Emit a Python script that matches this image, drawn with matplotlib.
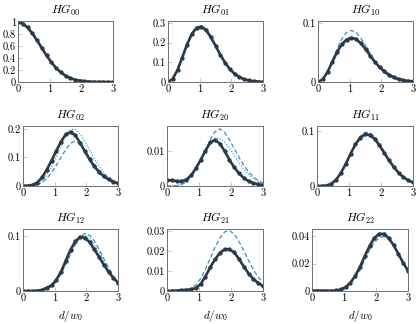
import matplotlib
matplotlib.use("Agg")
import matplotlib.pyplot as plt

plt.rcParams['font.family'] = ['cmr10', 'DejaVu Serif']
plt.rcParams['mathtext.fontset'] = 'cm'
plt.rcParams['axes.formatter.use_mathtext'] = True

# displacement grid d/w0
d = [0.0, 0.15, 0.3, 0.45, 0.6, 0.75, 0.9, 1.05, 1.2, 1.35, 1.5,
     1.65, 1.8, 1.95, 2.1, 2.25, 2.4, 2.55, 2.7, 2.85, 3.0]

hg00_dark = [1.0, 0.978, 0.914, 0.817, 0.698, 0.570, 0.445, 0.332, 0.237, 0.162, 0.105,
             0.066, 0.039, 0.022, 0.012, 0.006, 0.003, 0.0015, 0.0007, 0.0003, 0.0001]
hg00_dash = [1.0, 0.978, 0.914, 0.817, 0.698, 0.570, 0.445, 0.332, 0.237, 0.162, 0.105,
             0.066, 0.039, 0.022, 0.012, 0.006, 0.003, 0.0015, 0.0007, 0.0003, 0.0001]
hg00_dot = [1.0, 0.978, 0.914, 0.817, 0.698, 0.570, 0.445, 0.332, 0.237, 0.162, 0.105,
            0.066, 0.039, 0.022, 0.012, 0.006, 0.003, 0.0015, 0.0007, 0.0003, 0.0001]

hg01_dark = [0, 0.0160, 0.0610, 0.1240, 0.1895, 0.2430, 0.2740, 0.2810, 0.2640, 0.2280, 0.1840,
             0.1390, 0.0985, 0.0660, 0.0420, 0.0252, 0.0144, 0.0078, 0.0040, 0.0020, 0.0009]
hg01_dash = [0, 0.0160, 0.0610, 0.1240, 0.1895, 0.2430, 0.2740, 0.2790, 0.2600, 0.2235, 0.1785,
             0.1335, 0.0935, 0.0615, 0.0383, 0.0226, 0.0127, 0.0068, 0.0034, 0.0016, 0.0007]
hg01_dot = [0, 0.0165, 0.0620, 0.1250, 0.1900, 0.2432, 0.2738, 0.2785, 0.2596, 0.2236, 0.1795,
            0.1350, 0.0952, 0.0630, 0.0395, 0.0235, 0.0132, 0.0071, 0.0036, 0.0017, 0.0008]

hg10_dark = [0, 0.0045, 0.017, 0.034, 0.051, 0.064, 0.072, 0.0755, 0.073, 0.066, 0.056,
             0.045, 0.034, 0.025, 0.018, 0.012, 0.008, 0.005, 0.003, 0.0018, 0.001]
hg10_dash = [0, 0.0045, 0.0175, 0.0360, 0.0560, 0.0735, 0.0845, 0.0880, 0.0845, 0.0750, 0.0620,
             0.0480, 0.0350, 0.0240, 0.0157, 0.0097, 0.0057, 0.0032, 0.0017, 0.0009, 0.0004]
hg10_dot = [0, 0.0048, 0.018, 0.036, 0.053, 0.066, 0.074, 0.077, 0.074, 0.066, 0.055,
            0.043, 0.032, 0.023, 0.016, 0.010, 0.0065, 0.004, 0.0023, 0.0013, 0.0007]

hg02_dark = [0.001, 0.001, 0.004, 0.012, 0.030, 0.057, 0.089, 0.123, 0.156, 0.181, 0.189,
             0.178, 0.152, 0.122, 0.094, 0.069, 0.049, 0.034, 0.023, 0.015, 0.009]
hg02_dash = [0, 0.0001, 0.0010, 0.0045, 0.0120, 0.0260, 0.0470, 0.0720, 0.1000, 0.1280, 0.1500,
             0.1570, 0.1470, 0.1260, 0.1010, 0.0770, 0.0555, 0.0380, 0.0250, 0.0160, 0.0095]
hg02_dot = [0, 0.0001, 0.0015, 0.0065, 0.0185, 0.0390, 0.0680, 0.1030, 0.1400, 0.1760, 0.1980,
            0.1990, 0.1830, 0.1570, 0.1270, 0.0970, 0.0700, 0.0480, 0.0313, 0.0194, 0.0115]

hg20_dark = [0.0017, 0.0016, 0.0014, 0.0013, 0.0018, 0.0030, 0.0050, 0.0074, 0.0100, 0.0124, 0.0131,
             0.0121, 0.0100, 0.0075, 0.0053, 0.0036, 0.0023, 0.0014, 0.0008, 0.0005, 0.0003]
hg20_dash = [0, 0.00001, 0.0001, 0.0004, 0.0011, 0.0025, 0.0045, 0.0072, 0.0102, 0.0132, 0.0155,
             0.0163, 0.0153, 0.0132, 0.0107, 0.0082, 0.0059, 0.0040, 0.0026, 0.0016, 0.0009]
hg20_dot = [0, 0.00001, 0.0001, 0.0005, 0.0014, 0.0030, 0.0052, 0.0078, 0.0104, 0.0126, 0.0137,
            0.0136, 0.0125, 0.0108, 0.0087, 0.0067, 0.0048, 0.0033, 0.0022, 0.0013, 0.0008]

hg11_dark = [0, 0.0001, 0.0009, 0.0042, 0.0116, 0.0240, 0.0404, 0.0586, 0.0755, 0.0878, 0.0937,
             0.0926, 0.0855, 0.0740, 0.0604, 0.0466, 0.0342, 0.0239, 0.0160, 0.0103, 0.0065]
hg11_dash = [0, 0.0001, 0.0008, 0.0038, 0.0108, 0.0230, 0.0395, 0.0585, 0.0765, 0.0900, 0.0972,
             0.0970, 0.0898, 0.0775, 0.0628, 0.0478, 0.0344, 0.0234, 0.0150, 0.0092, 0.0054]
hg11_dot = [0, 0.0001, 0.0009, 0.0042, 0.0118, 0.0245, 0.0412, 0.0600, 0.0773, 0.0900, 0.0962,
            0.0950, 0.0875, 0.0754, 0.0612, 0.0468, 0.0339, 0.0233, 0.0152, 0.0095, 0.0056]

hg12_dark = [0, 0, 0.0001, 0.0005, 0.002, 0.006, 0.010, 0.020, 0.035, 0.055, 0.075,
             0.090, 0.098, 0.097, 0.089, 0.076, 0.062, 0.048, 0.035, 0.024, 0.015]
hg12_dash = [0, 0, 0, 0.0002, 0.001, 0.003, 0.008, 0.017, 0.031, 0.048, 0.066,
             0.084, 0.098, 0.1045, 0.1015, 0.091, 0.076, 0.059, 0.043, 0.027, 0.016]
hg12_dot = [0, 0, 0.00005, 0.0004, 0.0015, 0.0045, 0.010, 0.020, 0.034, 0.052, 0.071,
            0.088, 0.099, 0.102, 0.097, 0.085, 0.070, 0.054, 0.039, 0.026, 0.016]

hg21_dark = [0, 0.0001, 0.0002, 0.0004, 0.0006, 0.0008, 0.0014, 0.0035, 0.0072, 0.0118, 0.0158,
             0.0190, 0.0208, 0.0208, 0.0193, 0.0160, 0.0122, 0.0087, 0.0060, 0.0040, 0.0025]
hg21_dash = [0, 0, 0, 0.0001, 0.0004, 0.0012, 0.0030, 0.0062, 0.0108, 0.0163, 0.0218,
             0.0265, 0.0295, 0.0303, 0.0285, 0.0248, 0.0201, 0.0152, 0.0107, 0.0070, 0.0042]
hg21_dot = [0, 0.0001, 0.0002, 0.0004, 0.0006, 0.0009, 0.0016, 0.0038, 0.0075, 0.0120, 0.0160,
            0.0192, 0.0210, 0.0210, 0.0195, 0.0165, 0.0128, 0.0092, 0.0063, 0.0041, 0.0026]

hg22_dark = [0.0003, 0.0003, 0.0002, 0.0002, 0.0002, 0.0004, 0.0011, 0.0028, 0.0060, 0.0110, 0.0176,
             0.0254, 0.0328, 0.0386, 0.0416, 0.0415, 0.0385, 0.0333, 0.0269, 0.0205, 0.0147]
hg22_dash = [0, 0, 0, 0, 0.00005, 0.0003, 0.0009, 0.0025, 0.0055, 0.0100, 0.0150,
             0.0225, 0.0298, 0.0355, 0.0388, 0.0395, 0.0375, 0.0330, 0.0272, 0.0210, 0.0153]
hg22_dot = [0, 0, 0, 0, 0.00005, 0.0003, 0.0010, 0.0026, 0.0057, 0.0106, 0.0171,
            0.0247, 0.0320, 0.0376, 0.0405, 0.0405, 0.0377, 0.0328, 0.0267, 0.0205, 0.0149]

titles = ['$HG_{00}$', '$HG_{01}$', '$HG_{10}$',
          '$HG_{02}$', '$HG_{20}$', '$HG_{11}$',
          '$HG_{12}$', '$HG_{21}$', '$HG_{22}$']
panels = [(hg00_dark, hg00_dash, hg00_dot), (hg01_dark, hg01_dash, hg01_dot),
          (hg10_dark, hg10_dash, hg10_dot), (hg02_dark, hg02_dash, hg02_dot),
          (hg20_dark, hg20_dash, hg20_dot), (hg11_dark, hg11_dash, hg11_dot),
          (hg12_dark, hg12_dash, hg12_dot), (hg21_dark, hg21_dash, hg21_dot),
          (hg22_dark, hg22_dash, hg22_dot)]
yticks = [[0, 0.2, 0.4, 0.6, 0.8, 1], [0, 0.1, 0.2, 0.3], [0, 0.1],
          [0, 0.1, 0.2], [0, 0.01], [0, 0.1],
          [0, 0.1], [0, 0.01, 0.02, 0.03], [0, 0.02, 0.04]]
ytick_labels = [['0', '0.2', '0.4', '0.6', '0.8', '1'], ['0', '0.1', '0.2', '0.3'], ['0', '0.1'],
                ['0', '0.1', '0.2'], ['0', '0.01'], ['0', '0.1'],
                ['0', '0.1'], ['0', '0.01', '0.02', '0.03'], ['0', '0.02', '0.04']]
ymax = [1.022, 0.309, 0.104, 0.2105, 0.0171, 0.109, 0.1127, 0.031, 0.0451]

# axes boxes in pixels: left, right, top, bottom
boxes = [(18, 113, 21, 82), (168, 263, 21, 82), (318, 413, 21, 82),
         (23, 118, 126, 186), (167, 263, 126, 186), (317, 413, 126, 186),
         (23, 118, 229, 291), (167, 263, 229, 291), (312, 408, 229, 291)]

W, H = 416, 324
fig = plt.figure(figsize=(W / 100, H / 100), dpi=100)

dark = '#2b3a4b'
blue = '#3a90bd'
blue2 = '#4ea9d2'

for i, (l, r, t, b) in enumerate(boxes):
    ax = fig.add_axes([l / W, 1 - b / H, (r - l) / W, (b - t) / H])
    dk, ds, dt = panels[i]
    ax.plot(d, ds, color=blue, lw=0.9, linestyle=(0, (3.5, 2)))
    ax.plot(d, dt, color=blue2, lw=0.9, linestyle=(0, (1, 1.3)))
    ax.plot(d, dk, color=dark, lw=1.9, marker='o', markersize=2.1)
    ax.set_xlim(0, 3)
    ax.set_ylim(0, ymax[i])
    ax.set_xticks([0, 1, 2, 3])
    ax.set_xticklabels(['0', '1', '2', '3'])
    ax.set_yticks(yticks[i])
    ax.set_yticklabels(ytick_labels[i])
    ax.tick_params(direction='in', length=3, width=0.6, color='#bdbdbd',
                   labelsize=7.5, pad=1.5)
    for s in ax.spines.values():
        s.set_color('#6e6e6e')
        s.set_linewidth(0.7)
    ax.set_title(titles[i], fontsize=8.5, pad=5)
    if i >= 6:
        ax.set_xlabel('$d/w_0$', fontsize=8, labelpad=4)

fig.savefig('out.png', dpi=100)
